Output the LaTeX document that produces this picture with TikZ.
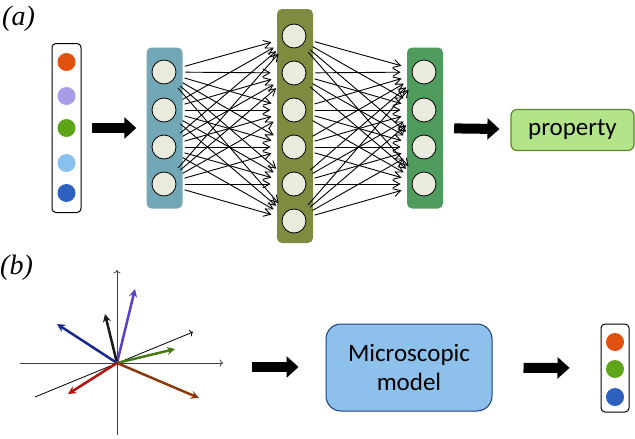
\documentclass[tikz,border=0pt]{standalone}
\usepackage{fontspec}
\setmainfont{Liberation Serif}
\newfontfamily\calib{Carlito}
\usetikzlibrary{arrows.meta}
\definecolor{dotorange}{HTML}{E0500F}
\definecolor{dotlilac}{HTML}{A89BE8}
\definecolor{dotgreen}{HTML}{5FA51A}
\definecolor{dotsky}{HTML}{88C0EE}
\definecolor{dotblue}{HTML}{2E60C0}
\definecolor{layteal}{HTML}{72A8B5}
\definecolor{layolive}{HTML}{7F8B3F}
\definecolor{laygreen}{HTML}{4F9A5D}
\definecolor{unitfill}{HTML}{E9EBDD}
\definecolor{propfill}{HTML}{B3E48A}
\definecolor{propline}{HTML}{5A8A2A}
\definecolor{microfill}{HTML}{8DC1EB}
\definecolor{microline}{HTML}{1F3A7A}
\definecolor{vpurple}{HTML}{5B3FC4}
\definecolor{vnavy}{HTML}{17298A}
\definecolor{vgreen}{HTML}{467A12}
\definecolor{vred}{HTML}{B3120F}
\definecolor{vbrown}{HTML}{8B3A0C}
\tikzset{
  unit/.style={circle, draw, fill=unitfill, minimum size=24pt, inner sep=0pt, line width=0.8pt},
  dot/.style={circle, minimum size=18pt, inner sep=0pt},
  layer/.style={rounded corners=5pt, minimum width=36pt, inner sep=0pt},
  vecbox/.style={draw, rounded corners=4pt, line width=1pt, fill=white, inner sep=0pt},
  link/.style={-{Straight Barb[length=7pt,width=8pt]}, shorten <=9pt, shorten >=11pt, line width=0.9pt},
  bigarrow/.style={-{Triangle[length=12pt,width=21pt]}, line width=10pt},
  vec/.style={-{Stealth[length=8pt,width=8pt]}, line width=2.5pt},
  axis/.style={->, black!75, line width=0.8pt},
}
\begin{document}
\begin{tikzpicture}[x=1pt, y=-1pt]
  \useasboundingbox (0,0) rectangle (635,439);
  % (a)
  \node[anchor=west, inner sep=0pt] (laba) at (2,19) {\fontsize{28}{32}\selectfont\textit{(a)}};
  \node[vecbox, minimum width=29pt, minimum height=169pt] (inbox) at (66.5,128) {};
  \node[dot, fill=dotorange] (in1) at (66.5,62){};
  \node[dot, fill=dotlilac] (in2) at (66.5,96){};
  \node[dot, fill=dotgreen] (in3) at (66.5,128){};
  \node[dot, fill=dotsky] (in4) at (66.5,163){};
  \node[dot, fill=dotblue] (in5) at (66.5,193){};
  \node[layer, fill=layteal, minimum height=161pt] (lay1) at (164.5,128) {};
  \node[layer, fill=layolive, minimum height=234pt] (lay2) at (295,126) {};
  \node[layer, fill=laygreen, minimum height=161pt] (lay3) at (425,128) {};
  \node[unit] (ha1) at (164,72){};
  \node[unit] (ha2) at (164,110){};
  \node[unit] (ha3) at (164,147){};
  \node[unit] (ha4) at (164,184){};
  \node[unit] (hb1) at (294,36){};
  \node[unit] (hb2) at (294,73){};
  \node[unit] (hb3) at (294,110){};
  \node[unit] (hb4) at (294,147){};
  \node[unit] (hb5) at (294,184){};
  \node[unit] (hb6) at (294,221){};
  \node[unit] (hc1) at (424,72){};
  \node[unit] (hc2) at (424,110){};
  \node[unit] (hc3) at (424,147){};
  \node[unit] (hc4) at (424,184){};
  \draw[link](ha1) -- (hb1);
  \draw[link](ha1) -- (hb2);
  \draw[link](ha1) -- (hb3);
  \draw[link](ha1) -- (hb4);
  \draw[link](ha1) -- (hb5);
  \draw[link](ha1) -- (hb6);
  \draw[link](ha2) -- (hb1);
  \draw[link](ha2) -- (hb2);
  \draw[link](ha2) -- (hb3);
  \draw[link](ha2) -- (hb4);
  \draw[link](ha2) -- (hb5);
  \draw[link](ha2) -- (hb6);
  \draw[link](ha3) -- (hb1);
  \draw[link](ha3) -- (hb2);
  \draw[link](ha3) -- (hb3);
  \draw[link](ha3) -- (hb4);
  \draw[link](ha3) -- (hb5);
  \draw[link](ha3) -- (hb6);
  \draw[link](ha4) -- (hb1);
  \draw[link](ha4) -- (hb2);
  \draw[link](ha4) -- (hb3);
  \draw[link](ha4) -- (hb4);
  \draw[link](ha4) -- (hb5);
  \draw[link](ha4) -- (hb6);
  \draw[link](hb1) -- (hc1);
  \draw[link](hb1) -- (hc2);
  \draw[link](hb1) -- (hc3);
  \draw[link](hb1) -- (hc4);
  \draw[link](hb2) -- (hc1);
  \draw[link](hb2) -- (hc2);
  \draw[link](hb2) -- (hc3);
  \draw[link](hb2) -- (hc4);
  \draw[link](hb3) -- (hc1);
  \draw[link](hb3) -- (hc2);
  \draw[link](hb3) -- (hc3);
  \draw[link](hb3) -- (hc4);
  \draw[link](hb4) -- (hc1);
  \draw[link](hb4) -- (hc2);
  \draw[link](hb4) -- (hc3);
  \draw[link](hb4) -- (hc4);
  \draw[link](hb5) -- (hc1);
  \draw[link](hb5) -- (hc2);
  \draw[link](hb5) -- (hc3);
  \draw[link](hb5) -- (hc4);
  \draw[link](hb6) -- (hc1);
  \draw[link](hb6) -- (hc2);
  \draw[link](hb6) -- (hc3);
  \draw[link](hb6) -- (hc4);
  \node[draw=propline, fill=propfill, line width=1.2pt, rounded corners=6pt, minimum width=123pt, minimum height=41pt, inner sep=0pt, font=\calib\fontsize{25}{29}\selectfont] (prop) at (572.5,130) {property};
  \draw[bigarrow, shorten <=10pt, shorten >=10pt](inbox) -- (lay1);
  \draw[bigarrow, shorten <=11pt, shorten >=11pt](lay3) -- (prop);
  % (b)
  \node[anchor=west, inner sep=0pt] (labb) at (0,268) {\fontsize{28}{32}\selectfont\textit{(b)}};
  \coordinate (o) at (117,363);
  \coordinate (xl) at (20,363);
  \coordinate (xr) at (223,363);
  \coordinate (yb) at (117,435);
  \coordinate (yt) at (117,270);
  \coordinate (zl) at (35,397);
  \coordinate (zr) at (193,332);
  \draw[axis](xl) -- (xr);
  \draw[axis](yb) -- (yt);
  \draw[->, line width=0.8pt](zl) -- (zr);
  \coordinate (vp) at (135,289);
  \coordinate (vk) at (105,314);
  \coordinate (vn) at (57,324);
  \coordinate (vg) at (175,349);
  \coordinate (vr) at (68,394);
  \coordinate (vb) at (199,398);
  \draw[vec, vpurple](o) -- (vp);
  \draw[vec, black!90](o) -- (vk);
  \draw[vec, vnavy](o) -- (vn);
  \draw[vec, vgreen](o) -- (vg);
  \draw[vec, vred](o) -- (vr);
  \draw[vec, vbrown](o) -- (vb);
  \node[draw=microline, fill=microfill, line width=1pt, rounded corners=15pt, minimum width=166pt, minimum height=87pt, inner sep=0pt, align=center, font=\calib\fontsize{25}{29}\selectfont] (micro) at (409,367.5) {Microscopic\\model};
  \node[vecbox, minimum width=28pt, minimum height=88pt] (outbox) at (615,368) {};
  \node[dot, fill=dotorange] (out1) at (615,342){};
  \node[dot, fill=dotgreen] (out2) at (615,369){};
  \node[dot, fill=dotblue] (out3) at (615,397){};
  \coordinate (b1s) at (252,367);
  \draw[bigarrow, shorten >=27pt](b1s) -- (b1s -| micro.west);
  \draw[bigarrow, shorten <=31pt, shorten >=31pt](micro) -- (outbox);
\end{tikzpicture}
\end{document}
